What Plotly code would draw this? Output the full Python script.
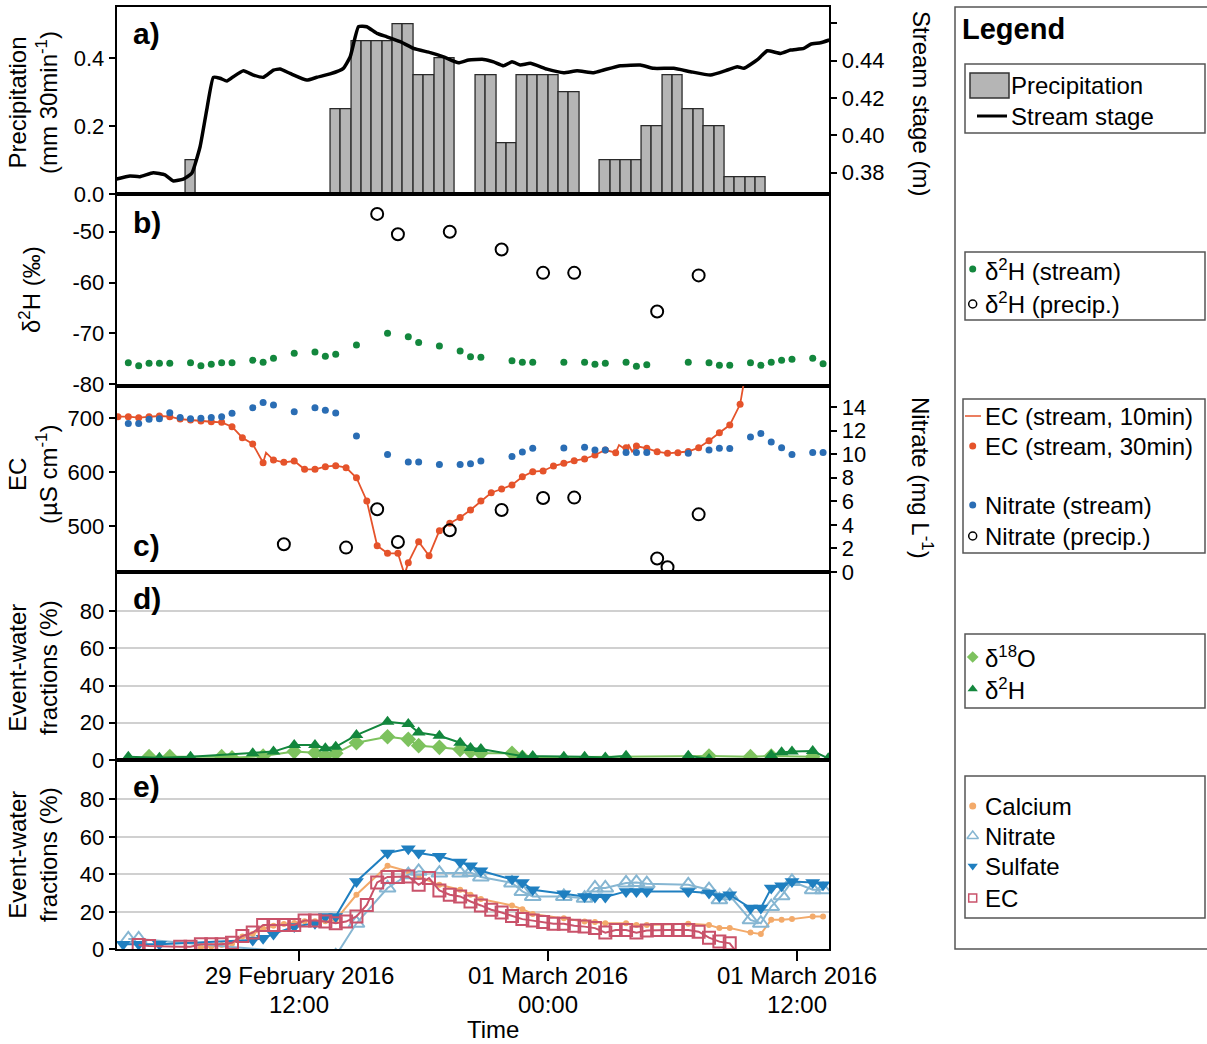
import plotly.graph_objects as go
import pandas as pd

W, H = 1207, 1044
BASE = pd.Timestamp("2016-02-29 00:00")


def T(hours):
    return [BASE + pd.Timedelta(hours=h) for h in hours]

# ---------------- data (hours after 29 Feb 2016 00:00) ----------------
precip_start_h = [6.5, 13.5, 14.0, 14.5, 15.0, 15.5, 16.0, 16.5, 17.0, 17.5, 18.0, 18.5, 19.0,
                  20.5, 21.0, 21.5, 22.0, 22.5, 23.0, 23.5, 24.0, 24.5, 25.0,
                  26.5, 27.0, 27.5, 28.0, 28.5, 29.0, 29.5, 30.0, 30.5, 31.0, 31.5, 32.0,
                  32.5, 33.0, 33.5, 34.0]
precip_mm = [0.10, 0.25, 0.25, 0.45, 0.45, 0.45, 0.45, 0.50, 0.50, 0.35, 0.35, 0.40, 0.40,
             0.35, 0.35, 0.15, 0.15, 0.35, 0.35, 0.35, 0.35, 0.30, 0.30,
             0.10, 0.10, 0.10, 0.10, 0.20, 0.20, 0.35, 0.35, 0.25, 0.25, 0.20, 0.20,
             0.05, 0.05, 0.05, 0.05]

stage_h = [3.19, 3.83, 4.31, 4.95, 5.52, 5.92, 6.40, 6.81, 7.21, 7.53, 7.85, 8.17, 8.50, 8.81,
           9.30, 9.78, 10.26, 10.75, 11.07, 11.55, 12.36, 12.84, 13.48, 14.12, 14.45, 14.85,
           15.25, 15.74, 16.22, 16.86, 17.50, 18.31, 18.95, 19.67, 20.16, 20.88, 21.36, 21.84,
           22.25, 22.65, 23.13, 23.94, 24.74, 25.39, 26.19, 26.67, 27.48, 28.44, 29.08, 30.05,
           30.86, 31.82, 32.63, 33.11, 33.43, 34.07, 34.56, 35.20, 35.68, 36.32, 36.65, 37.13,
           37.55]
stage_m = [0.3766, 0.3782, 0.3779, 0.3800, 0.3788, 0.3756, 0.3766, 0.3797, 0.3939, 0.4136,
           0.4311, 0.4306, 0.4291, 0.4314, 0.4346, 0.4323, 0.4311, 0.4350, 0.4355, 0.4332,
           0.4296, 0.4311, 0.4329, 0.4359, 0.4421, 0.4582, 0.4582, 0.4546, 0.4528, 0.4502,
           0.4466, 0.4443, 0.4421, 0.4389, 0.4404, 0.4407, 0.4394, 0.4373, 0.4394, 0.4377,
           0.4386, 0.4355, 0.4336, 0.4346, 0.4336, 0.4350, 0.4373, 0.4377, 0.4359, 0.4359,
           0.4341, 0.4323, 0.4350, 0.4368, 0.4359, 0.4404, 0.4453, 0.4439, 0.4457, 0.4466,
           0.4488, 0.4496, 0.4511]

d2h_stream_h = [3.75, 4.25, 4.75, 5.25, 5.75, 6.75, 7.25, 7.75, 8.25, 8.75, 9.75, 10.25, 10.75,
                11.75, 12.75, 13.25, 13.75, 14.75, 16.25, 17.25, 17.75, 18.75, 19.75, 20.25,
                20.75, 22.25, 22.75, 23.25, 24.75, 25.75, 26.25, 26.75, 27.75, 28.25, 28.75,
                30.75, 31.75, 32.25, 32.75, 33.75, 34.25, 34.75, 35.25, 35.75, 36.75, 37.25]
d2h_stream = [-75.8, -76.4, -75.9, -75.9, -75.9, -75.8, -76.4, -76.1, -75.8, -75.8, -75.3, -75.7,
              -74.9, -73.9, -73.7, -74.5, -74.1, -72.3, -70.0, -70.7, -71.8, -72.5, -73.5, -74.6,
              -74.7, -75.4, -75.7, -75.7, -75.7, -75.7, -76.1, -75.9, -75.7, -76.5, -76.2,
              -75.7, -75.8, -76.3, -76.3, -75.8, -76.3, -75.7, -75.3, -75.1, -74.9, -76.0]

d2h_precip_h = [15.75, 16.75, 19.25, 21.75, 23.75, 25.25, 29.25, 31.25]
d2h_precip = [-46.5, -50.5, -50.0, -53.5, -58.1, -58.1, -65.7, -58.6]

ec30_h = [3.25, 3.75, 4.25, 4.75, 5.25, 5.75, 6.25, 6.75, 7.25, 7.75, 8.25, 8.75, 9.25, 9.75,
          10.25, 10.75, 11.25, 11.75, 12.25, 12.75, 13.25, 13.75, 14.25, 14.75, 15.25, 15.75,
          16.25, 16.75, 17.25, 17.75, 18.25, 18.75, 19.25, 19.75, 20.25, 20.75, 21.25, 21.75,
          22.25, 22.75, 23.25, 23.75, 24.25, 24.75, 25.25, 25.75, 26.25, 26.75, 27.25, 27.75,
          28.25, 28.75, 29.25, 29.75, 30.25, 30.75, 31.25, 31.75, 32.25, 32.75, 33.25]
ec30 = [702.4, 702.4, 700.6, 702.4, 703.7, 702.4, 698.1, 696.3, 694.4, 693.1, 692.0, 683.9,
        663.5, 651.9, 617.2, 622.2, 618.0, 620.4, 605.0, 605.0, 609.8, 611.7, 608.0, 589.4,
        546.3, 463.5, 449.4, 449.4, 432.0, 470.9, 445.0, 491.3, 505.0, 515.8, 529.6, 546.3,
        561.7, 568.5, 575.9, 591.3, 600.6, 601.9, 611.1, 616.1, 620.9, 624.1, 631.5, 640.7,
        635.7, 645.0, 648.1, 643.9, 637.6, 634.6, 635.7, 638.0, 645.0, 658.0, 672.8, 687.0,
        725.4]

ec10_h = [3.19, 3.25, 3.75, 4.25, 4.75, 5.25, 5.75, 6.25, 6.75, 7.25, 7.75, 8.25, 8.75, 9.25,
          9.75, 10.25, 10.39, 10.75, 11.25, 11.75, 12.25, 12.75, 13.25, 13.75, 14.25, 14.75,
          15.25, 15.75, 16.25, 16.75, 17.07, 17.25, 17.75, 18.25, 18.75, 19.25, 19.75, 20.25,
          20.75, 21.25, 21.75, 22.25, 22.75, 23.25, 23.75, 24.25, 24.75, 25.25, 25.75, 26.25,
          26.75, 27.25, 27.41, 27.64, 27.75, 27.88, 28.04, 28.25, 28.75, 29.25, 29.75, 30.25,
          30.75, 31.25, 31.75, 32.25, 32.75, 33.25, 33.45]
ec10 = [702.4, 702.4, 702.4, 700.6, 702.4, 703.7, 702.4, 698.1, 696.3, 694.4, 693.1, 692.0,
        683.9, 663.5, 651.9, 617.2, 635.7, 622.2, 618.0, 620.4, 605.0, 605.0, 609.8, 611.7,
        608.0, 589.4, 546.3, 463.5, 449.4, 449.4, 410.0, 432.0, 470.9, 445.0, 491.3, 505.0,
        515.8, 529.6, 546.3, 561.7, 568.5, 575.9, 591.3, 600.6, 601.9, 611.1, 616.1, 620.9,
        624.1, 631.5, 640.7, 635.7, 650.0, 644.0, 645.0, 650.0, 638.0, 648.1, 643.9, 637.6,
        634.6, 635.7, 638.0, 645.0, 658.0, 672.8, 687.0, 725.4, 770.0]

no3_stream_h = [3.75, 4.25, 4.75, 5.25, 5.75, 6.25, 6.75, 7.25, 7.75, 8.25, 8.75, 9.75, 10.25,
                10.75, 11.75, 12.75, 13.25, 13.75, 14.75, 16.25, 17.25, 17.75, 18.75, 19.75,
                20.25, 20.75, 22.25, 22.75, 23.25, 24.75, 25.75, 26.25, 26.75, 27.75, 28.25,
                28.75, 30.75, 31.75, 32.25, 32.75, 33.75, 34.25, 34.75, 35.25, 35.75, 36.75,
                37.25]
no3_stream = [12.59, 12.59, 12.95, 13.01, 13.52, 13.10, 13.01, 13.04, 13.10, 13.18, 13.46,
              13.94, 14.37, 14.16, 13.60, 13.94, 13.72, 13.49, 11.54, 9.96, 9.33, 9.33, 9.13,
              9.13, 9.19, 9.41, 9.79, 10.18, 10.49, 10.52, 10.58, 10.35, 10.35, 10.13, 10.13,
              10.13, 10.07, 10.35, 10.49, 10.47, 11.45, 11.76, 11.03, 10.55, 9.96, 10.13, 10.13]

no3_precip_h = [11.25, 14.25, 15.75, 16.75, 19.25, 21.75, 23.75, 25.25, 29.25, 29.75, 31.25]
no3_precip = [2.35, 2.07, 5.32, 2.54, 3.54, 5.26, 6.28, 6.31, 1.14, 0.40, 4.89]

ew_d2h_h = [3.75, 5.25, 6.75, 9.75, 10.75, 11.75, 12.75, 13.25, 13.75, 14.75, 16.25, 17.25,
            17.75, 18.75, 19.75, 20.25, 20.75, 22.75, 23.25, 24.75, 25.75, 26.75, 27.75, 28.25,
            29.75, 30.75, 31.75, 32.25, 34.25, 34.75, 35.25, 35.75, 36.75, 37.5]
ew_d2h = [1.8, 1.2, 1.8, 3.6, 4.5, 8.0, 8.0, 6.3, 7.1, 13.4, 20.5, 19.3, 14.8, 13.0, 9.3, 6.5,
          5.9, 2.1, 2.1, 1.8, 1.8, 1.4, 2.3, -4.0, -4.0, 2.3, 0.6, -4.0, -3.0, 2.5, 4.1, 4.5,
          4.8, 0.9]

ew_d18o_h = [4.75, 5.75, 8.25, 8.75, 10.25, 11.75, 12.75, 13.25, 13.75, 14.75, 16.25, 17.25,
             17.75, 18.75, 19.75, 20.25, 20.75, 22.25, 22.75, 31.75, 33.75, 34.75, 36.75]
ew_d18o = [1.8, 1.8, 1.8, 1.2, 2.1, 4.5, 3.9, 2.1, 3.6, 9.3, 12.5, 11.1, 7.7, 6.8, 5.7, 4.5, 3.6,
           3.6, 1.4, 2.1, 1.8, 2.1, 1.8]

ew_ca_h = [7.25, 7.75, 8.25, 8.75, 9.25, 9.75, 10.25, 10.75, 11.25, 11.75, 12.25, 12.75, 13.25,
           13.75, 14.75, 16.25, 17.25, 17.75, 18.75, 19.75, 20.25, 20.75, 22.25, 22.75, 23.25,
           24.75, 25.75, 26.25, 26.75, 27.75, 28.25, 28.75, 30.75, 31.75, 32.25, 32.75, 33.75,
           34.25, 34.75, 35.25, 35.75, 36.75, 37.25]
ew_ca = [1.0, 1.5, 2.3, 3.0, 6.8, 8.2, 11.0, 12.5, 13.5, 14.0, 15.0, 15.0, 15.0, 15.7, 29.1,
         44.6, 41.6, 38.6, 34.4, 31.8, 29.1, 26.8, 23.4, 21.4, 18.9, 16.6, 14.8, 14.5, 13.9,
         13.9, 13.0, 13.0, 13.6, 13.0, 11.3, 11.3, 8.9, 8.2, 15.7, 15.7, 16.1, 17.5, 17.5]

ew_no3_h = [3.75, 4.25, 13.75, 14.75, 16.25, 17.25, 17.75, 18.75, 19.75, 20.25, 20.75, 22.25,
            22.75, 23.25, 24.75, 25.75, 26.25, 26.75, 27.75, 28.25, 28.75, 30.75, 31.75, 32.25,
            32.75, 33.75, 34.25, 34.75, 35.25, 35.75, 36.75, 37.25]
ew_no3 = [5.5, 5.5, -3.5, 13.9, 32.7, 39.8, 41.6, 40.7, 40.7, 41.0, 38.6, 35.4, 30.9, 28.2, 28.2,
          27.3, 32.7, 32.7, 35.4, 35.7, 35.0, 34.4, 31.8, 26.4, 28.6, 15.7, 13.9, 22.8, 28.6,
          36.2, 31.8, 31.8]

ew_so4_h = [3.5, 4.25, 5.25, 9.75, 10.25, 10.75, 11.75, 12.75, 13.25, 13.75, 14.75, 16.25, 17.25,
            17.75, 18.75, 19.75, 20.25, 20.75, 22.25, 22.75, 23.25, 24.75, 25.75, 26.25, 26.75,
            27.75, 28.25, 28.75, 30.75, 31.75, 32.25, 32.75, 33.75, 34.25, 34.75, 35.25, 35.75,
            36.75, 37.25]
ew_so4 = [2.7, 2.7, 2.7, 5.0, 5.9, 8.2, 12.1, 13.9, 17.5, 17.5, 36.2, 51.4, 53.6, 51.4, 49.6,
          46.6, 44.6, 41.9, 37.5, 35.7, 31.8, 29.6, 28.2, 27.9, 27.9, 30.9, 30.9, 30.9, 30.9,
          30.0, 28.2, 29.1, 22.0, 22.0, 32.7, 33.9, 36.2, 35.7, 34.4]

ew_ec_h = [4.25, 4.75, 6.25, 6.75, 7.25, 7.75, 8.25, 8.75, 9.25, 9.75, 10.25, 10.75, 11.25,
           11.75, 12.25, 12.75, 13.25, 13.75, 14.25, 14.75, 15.25, 15.75, 16.25, 16.75, 17.25,
           17.75, 18.25, 18.75, 19.25, 19.75, 20.25, 20.75, 21.25, 21.75, 22.25, 22.75, 23.25,
           23.75, 24.25, 24.75, 25.25, 25.75, 26.25, 26.75, 27.25, 27.75, 28.25, 28.75, 29.25,
           29.75, 30.25, 30.75, 31.25, 31.75, 32.25, 32.75, 33.25]
ew_ec = [2.3, 1.8, 1.4, 1.4, 2.7, 2.7, 2.7, 3.5, 7.1, 8.9, 13.0, 13.0, 13.0, 13.0, 15.3, 15.3,
         14.8, 13.9, 14.8, 17.5, 23.7, 35.7, 38.6, 38.6, 38.9, 34.4, 38.0, 31.4, 29.1, 28.2,
         25.5, 23.4, 21.1, 19.6, 17.8, 16.1, 15.3, 14.5, 13.6, 13.6, 12.6, 12.1, 11.3, 8.9,
         10.3, 10.3, 8.9, 10.0, 10.3, 10.3, 10.3, 10.3, 9.4, 6.2, 4.1, 3.2, -4.0]

x_tick_h = [12, 24, 36]
x_tick_date = ["29 February 2016", "01 March 2016", "01 March 2016"]
x_tick_time = ["12:00", "00:00", "12:00"]

# ---------------- styling ----------------
FONT = "Liberation Sans, Arial, sans-serif"
C_EC = "#e5532b"
C_NO3 = "#2a6db4"
C_G_DARK = "#13873d"
C_G_LIGHT = "#7dc25e"
C_CA = "#f3aa6a"
C_NO3E = "#86b6d2"
C_SO4 = "#1f7fc0"
C_ECE = "#c9526a"

XDOM = [116.7 / W, 829.3 / W]
PAN = {"a": (7.3, 194), "b": (194, 386), "c": (386, 572), "d": (572, 760), "e": (760, 949.3)}


def ydom(k):
    top, bot = PAN[k]
    return [1 - bot / H, 1 - top / H]


def PX(p):
    return p / W


def PY(p):
    return 1 - p / H


XR = [BASE + pd.Timedelta(hours=3.19), BASE + pd.Timedelta(hours=37.55)]

fig = go.Figure()

# a) precipitation + stage
fig.add_trace(go.Bar(x=T([h + 0.25 for h in precip_start_h]), y=precip_mm, width=1800000,
                     marker=dict(color="#b5b5b5", line=dict(color="#2a2a2a", width=1.3)),
                     xaxis="x", yaxis="y", showlegend=False))
fig.add_trace(go.Scatter(x=T(stage_h), y=stage_m, mode="lines",
                         line=dict(color="black", width=3.5, shape="spline", smoothing=0.4),
                         xaxis="x", yaxis="y2", showlegend=False))

# b) d2H
fig.add_trace(go.Scatter(x=T(d2h_stream_h), y=d2h_stream, mode="markers",
                         marker=dict(color=C_G_DARK, size=7), xaxis="x2", yaxis="y3",
                         showlegend=False))
fig.add_trace(go.Scatter(x=T(d2h_precip_h), y=d2h_precip, mode="markers",
                         marker=dict(symbol="circle-open", color="black", size=12,
                                     line=dict(width=2)),
                         xaxis="x2", yaxis="y3", showlegend=False))

# c) EC + nitrate
fig.add_trace(go.Scatter(x=T(ec10_h), y=ec10, mode="lines", line=dict(color=C_EC, width=1.8),
                         xaxis="x3", yaxis="y4", showlegend=False))
fig.add_trace(go.Scatter(x=T(ec30_h), y=ec30, mode="markers", marker=dict(color=C_EC, size=7),
                         xaxis="x3", yaxis="y4", showlegend=False))
fig.add_trace(go.Scatter(x=T(no3_stream_h), y=no3_stream, mode="markers",
                         marker=dict(color=C_NO3, size=7), xaxis="x3", yaxis="y5",
                         showlegend=False))
fig.add_trace(go.Scatter(x=T(no3_precip_h), y=no3_precip, mode="markers",
                         marker=dict(symbol="circle-open", color="black", size=12,
                                     line=dict(width=2)),
                         xaxis="x3", yaxis="y5", showlegend=False))

# d) isotopic event-water fractions
fig.add_trace(go.Scatter(x=T(ew_d18o_h), y=ew_d18o, mode="lines+markers",
                         line=dict(color=C_G_LIGHT, width=2),
                         marker=dict(symbol="diamond", color=C_G_LIGHT, size=12),
                         xaxis="x4", yaxis="y6", showlegend=False))
fig.add_trace(go.Scatter(x=T(ew_d2h_h), y=ew_d2h, mode="lines+markers",
                         line=dict(color=C_G_DARK, width=2),
                         marker=dict(symbol="triangle-up", color=C_G_DARK, size=12),
                         xaxis="x4", yaxis="y6", showlegend=False))

# e) solute event-water fractions
fig.add_trace(go.Scatter(x=T(ew_ca_h), y=ew_ca, mode="lines+markers",
                         line=dict(color=C_CA, width=2), marker=dict(color=C_CA, size=6),
                         xaxis="x5", yaxis="y7", showlegend=False))
fig.add_trace(go.Scatter(x=T(ew_no3_h), y=ew_no3, mode="lines+markers",
                         line=dict(color=C_NO3E, width=2),
                         marker=dict(symbol="triangle-up-open", color=C_NO3E, size=14,
                                     line=dict(width=2)),
                         xaxis="x5", yaxis="y7", showlegend=False))
fig.add_trace(go.Scatter(x=T(ew_so4_h), y=ew_so4, mode="lines+markers",
                         line=dict(color=C_SO4, width=2),
                         marker=dict(symbol="triangle-down", color=C_SO4, size=13),
                         xaxis="x5", yaxis="y7", showlegend=False))
fig.add_trace(go.Scatter(x=T(ew_ec_h), y=ew_ec, mode="lines+markers",
                         line=dict(color=C_ECE, width=2),
                         marker=dict(symbol="square-open", color=C_ECE, size=12,
                                     line=dict(width=2)),
                         xaxis="x5", yaxis="y7", showlegend=False))

# ---------------- legend (drawn in a pixel-coordinate overlay) ----------------
LX = 972.7
leg_markers = [
    (269, "circle", C_G_DARK, 7, 0),
    (304, "circle-open", "black", 8, 1.5),
    (446, "circle", C_EC, 7, 0),
    (505, "circle", C_NO3, 7, 0),
    (536, "circle-open", "black", 8, 1.5),
    (657, "diamond", C_G_LIGHT, 9, 0),
    (689, "triangle-up", C_G_DARK, 9, 0),
    (806, "circle", C_CA, 7, 0),
    (836, "triangle-up-open", C_NO3E, 10, 1.5),
    (866, "triangle-down", C_SO4, 9, 0),
    (898, "square-open", C_ECE, 8, 1.5),
]
for yy, sym, col, sz, lw in leg_markers:
    fig.add_trace(go.Scatter(x=[LX], y=[yy], mode="markers",
                             marker=dict(symbol=sym, color=col, size=sz, line=dict(width=lw)),
                             xaxis="x6", yaxis="y8", showlegend=False, hoverinfo="skip"))

shapes = []
annotations = []


def lrect(x0, y0, x1, y1, **kw):
    d = dict(type="rect", xref="paper", yref="paper", x0=PX(x0), y0=PY(y0), x1=PX(x1),
             y1=PY(y1), line=dict(color="#555555", width=1.5))
    d.update(kw)
    shapes.append(d)


def lline(x0, y0, x1, y1, color, width):
    shapes.append(dict(type="line", xref="paper", yref="paper", x0=PX(x0), y0=PY(y0),
                       x1=PX(x1), y1=PY(y1), line=dict(color=color, width=width)))


lrect(955, 7, 1212, 949)
lrect(965, 64, 1205, 133)
lrect(965, 252, 1205, 320)
lrect(963, 399, 1205, 553)
lrect(965, 634, 1205, 708)
lrect(965, 776, 1205, 918)
lrect(970, 73, 1009, 98, fillcolor="#b5b5b5", line=dict(color="#333333", width=1.5))
lline(977, 116, 1007, 116, "black", 3)
lline(965, 416, 981, 416, C_EC, 1.5)


def ptext(px, py, s, size=24, angle=0, bold=False, anchor="center"):
    annotations.append(dict(xref="paper", yref="paper", x=PX(px), y=PY(py),
                            text=("<b>%s</b>" % s) if bold else s, showarrow=False,
                            textangle=angle, xanchor=anchor, yanchor="middle",
                            font=dict(family=FONT, size=size, color="black")))


ptext(960, 29, "Legend", size=29, bold=True, anchor="left")
ptext(1009, 85, "Precipitation", anchor="left")
ptext(1009, 116, "Stream stage", anchor="left")
ptext(983, 270, "δ<sup>2</sup>H (stream)", anchor="left")
ptext(983, 303, "δ<sup>2</sup>H (precip.)", anchor="left")
ptext(983, 416, "EC (stream, 10min)", anchor="left")
ptext(983, 447, "EC (stream, 30min)", anchor="left")
ptext(983, 505, "Nitrate (stream)", anchor="left")
ptext(983, 536, "Nitrate (precip.)", anchor="left")
ptext(983, 657, "δ<sup>18</sup>O", anchor="left")
ptext(983, 689, "δ<sup>2</sup>H", anchor="left")
ptext(983, 806, "Calcium", anchor="left")
ptext(983, 836, "Nitrate", anchor="left")
ptext(983, 866, "Sulfate", anchor="left")
ptext(983, 898, "EC", anchor="left")

for lab, (px, py) in {"a)": (131, 33), "b)": (131, 222), "c)": (131, 545),
                      "d)": (131, 598), "e)": (131, 786)}.items():
    ptext(px, py, lab, size=30, bold=True, anchor="left")

ptext(33, 103, "Precipitation<br>(mm 30min<sup>-1</sup>)", angle=-90)
ptext(30, 290, "δ<sup>2</sup>H (‰)", angle=-90)
ptext(33, 475, "EC<br>(µS cm<sup>-1</sup>)", angle=-90)
ptext(33, 668, "Event-water<br>fractions (%)", angle=-90)
ptext(33, 855, "Event-water<br>fractions (%)", angle=-90)
ptext(922, 103, "Stream stage (m)", angle=90)
ptext(922, 478, "Nitrate (mg L<sup>-1</sup>)", angle=90)
ptext(493, 1029, "Time")

# x tick labels placed on the time axis
for h, d_txt, t_txt in zip(x_tick_h, x_tick_date, x_tick_time):
    for yy, s in ((975, d_txt), (1004, t_txt)):
        annotations.append(dict(xref="x5", yref="paper", x=T([h])[0], y=PY(yy), text=s,
                                showarrow=False, xanchor="center", yanchor="middle",
                                font=dict(family=FONT, size=24, color="black")))

# ---------------- axes ----------------
TICKF = dict(family=FONT, size=22, color="black")


def xax(anchor, last=False):
    d = dict(type="date", range=XR, domain=XDOM, anchor=anchor, showline=True, linecolor="black",
             linewidth=2, mirror=True, showgrid=False, zeroline=False, automargin=False,
             showticklabels=False)
    if last:
        d.update(ticks="outside", ticklen=10, tickwidth=2, tickcolor="black",
                 tickvals=T(x_tick_h))
    else:
        d.update(ticks="", matches="x")
    return d


def yax(dom_key, rng, vals, text=None, anchor="x", grid=False, side="left", overlay=None):
    d = dict(range=rng, tickvals=vals, anchor=anchor, showline=True, linecolor="black",
             linewidth=2, ticks="outside", ticklen=6, tickwidth=2, tickcolor="black",
             tickfont=TICKF, zeroline=False, showgrid=grid, gridcolor="#d0d0d0", gridwidth=1.5,
             side=side, automargin=False)
    if text is not None:
        d["ticktext"] = text
    if overlay:
        d["overlaying"] = overlay
    else:
        d["domain"] = ydom(dom_key)
        d["mirror"] = True
    return d


fig.update_layout(
    width=W, height=H, autosize=False,
    margin=dict(l=0, r=0, t=0, b=0, pad=0, autoexpand=False),
    paper_bgcolor="white", plot_bgcolor="rgba(0,0,0,0)",
    font=dict(family=FONT, color="black"),
    showlegend=False, bargap=0,
    xaxis=xax("y"), xaxis2=xax("y3"), xaxis3=xax("y4"), xaxis4=xax("y6"),
    xaxis5=xax("y7", last=True),
    yaxis=yax("a", [0, 0.549], [0, 0.2, 0.4], ["0.0", "0.2", "0.4"], anchor="x"),
    yaxis2=yax("a", [0.3686, 0.4686], [0.38, 0.40, 0.42, 0.44, 0.46],
               ["0.38", "0.40", "0.42", "0.44", " "], anchor="x", side="right", overlay="y"),
    yaxis3=yax("b", [-80.37, -42.58], [-80, -70, -60, -50], ["-80", "-70", "-60", "-50"],
               anchor="x2"),
    yaxis4=yax("c", [414.8, 759.3], [500, 600, 700], anchor="x3"),
    yaxis5=yax("c", [0, 15.78], [0, 2, 4, 6, 8, 10, 12, 14], anchor="x3", side="right",
               overlay="y4"),
    yaxis6=yax("d", [0, 101], [0, 20, 40, 60, 80], anchor="x4", grid=True),
    yaxis7=yax("e", [0, 101], [0, 20, 40, 60, 80], anchor="x5", grid=True),
    xaxis6=dict(domain=[950 / W, 1], range=[950, W], visible=False, anchor="y8",
                fixedrange=True, automargin=False),
    yaxis8=dict(domain=[0, 1], range=[H, 0], visible=False, anchor="x6", fixedrange=True,
                automargin=False),
    shapes=shapes, annotations=annotations,
)

fig.write_html("out.html", config={"responsive": False})
